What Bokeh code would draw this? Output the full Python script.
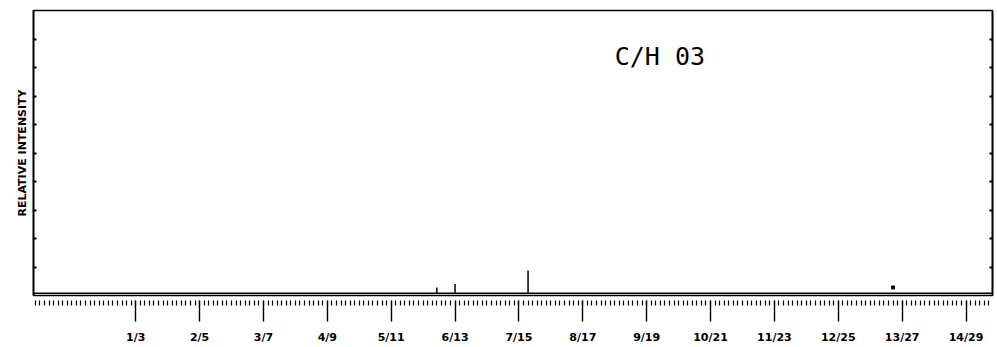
from bokeh.plotting import figure
from bokeh.models import (Range1d, LinearAxis, FixedTicker, Label, ColumnDataSource,
                          CustomLabelingPolicy)
from bokeh.embed import file_html
from bokeh.resources import INLINE

# x axis: mass (amu); labelled ticks at CnH2n+1 masses
label_masses = [15, 29, 43, 57, 71, 85, 99, 113, 127, 141, 155, 169, 183, 197]
label_texts = ["1/3", "2/5", "3/7", "4/9", "5/11", "6/13", "7/15", "8/17",
               "9/19", "10/21", "11/23", "12/25", "13/27", "14/29"]
minor_masses = list(range(-7, 203))

# y axis ticks (relative intensity, 0-100)
y_ticks = [10, 20, 30, 40, 50, 60, 70, 80, 90]

# observed peaks
peak_mass = [81, 85, 101]
peak_height = [2.8, 4.0, 8.8]
peak_base = [1.0, 1.0, 1.0]
dot_mass = [181]
dot_height = [2.8]

# baseline (noise floor)
baseline_mass = [-7.4, 202.8]
baseline_level = [0.8, 0.8]

p = figure(width=996, height=346, output_backend="svg", toolbar_location=None,
           x_range=Range1d(-7.4, 202.8), y_range=Range1d(0, 100),
           min_border_left=33, min_border_right=1, min_border_top=10,
           min_border_bottom=49, x_axis_location=None, y_axis_location=None)
p.xgrid.visible = False
p.ygrid.visible = False
p.outline_line_color = "black"
p.outline_line_width = 1.6
p.background_fill_color = "white"
p.border_fill_color = "white"

# bottom ruler axis
xa = LinearAxis(ticker=FixedTicker(ticks=label_masses, minor_ticks=minor_masses))
xa.major_label_overrides = {m: t for m, t in zip(label_masses, label_texts)}
xa.axis_line_alpha = 0
xa.major_tick_in = -5
xa.major_tick_out = 26
xa.minor_tick_in = -5
xa.minor_tick_out = 10
xa.major_tick_line_width = 1.4
xa.minor_tick_line_width = 1.2
xa.major_tick_line_color = "black"
xa.minor_tick_line_color = "black"
xa.major_label_standoff = 9
xa.major_label_text_font = "DejaVu Sans"
xa.major_label_text_font_style = "bold"
xa.major_label_text_font_size = "11px"
xa.major_label_text_color = "black"
p.add_layout(xa, "below")

# left axis
ya = LinearAxis(ticker=FixedTicker(ticks=y_ticks, minor_ticks=[]))
ya.axis_line_color = "black"
ya.axis_line_width = 1.6
ya.major_tick_in = 3
ya.major_tick_out = 0
ya.major_tick_line_width = 2
ya.major_label_policy = CustomLabelingPolicy(code="return new Set()")
ya.major_label_standoff = 0
ya.major_label_text_font_size = "1px"
ya.axis_label = "RELATIVE INTENSITY"
ya.axis_label_text_font = "DejaVu Sans"
ya.axis_label_text_font_style = "bold"
ya.axis_label_text_font_size = "11px"
ya.axis_label_text_color = "black"
ya.axis_label_standoff = 0
p.add_layout(ya, "left")

# right axis
ra = LinearAxis(ticker=FixedTicker(ticks=y_ticks, minor_ticks=[]))
ra.axis_line_color = "black"
ra.axis_line_width = 1.6
ra.major_tick_in = 3
ra.major_tick_out = 0
ra.major_tick_line_width = 2
ra.major_label_policy = CustomLabelingPolicy(code="return new Set()")
ra.major_label_standoff = 0
ra.major_label_text_font_size = "1px"
p.add_layout(ra, "right")

p.line(baseline_mass, baseline_level, line_color="black", line_width=1.5)
src = ColumnDataSource(dict(x=peak_mass, y0=peak_base, y1=peak_height))
p.segment(x0="x", y0="y0", x1="x", y1="y1", source=src, line_color="black", line_width=1.5)
p.scatter(dot_mass, dot_height, marker="square", size=3, color="black")

p.add_layout(Label(x=120, y=89, text="C/H 03", text_font="DejaVu Sans Mono",
                   text_font_size="25px", text_baseline="top", text_color="black"))

open("out.html", "w").write(file_html(p, INLINE))
